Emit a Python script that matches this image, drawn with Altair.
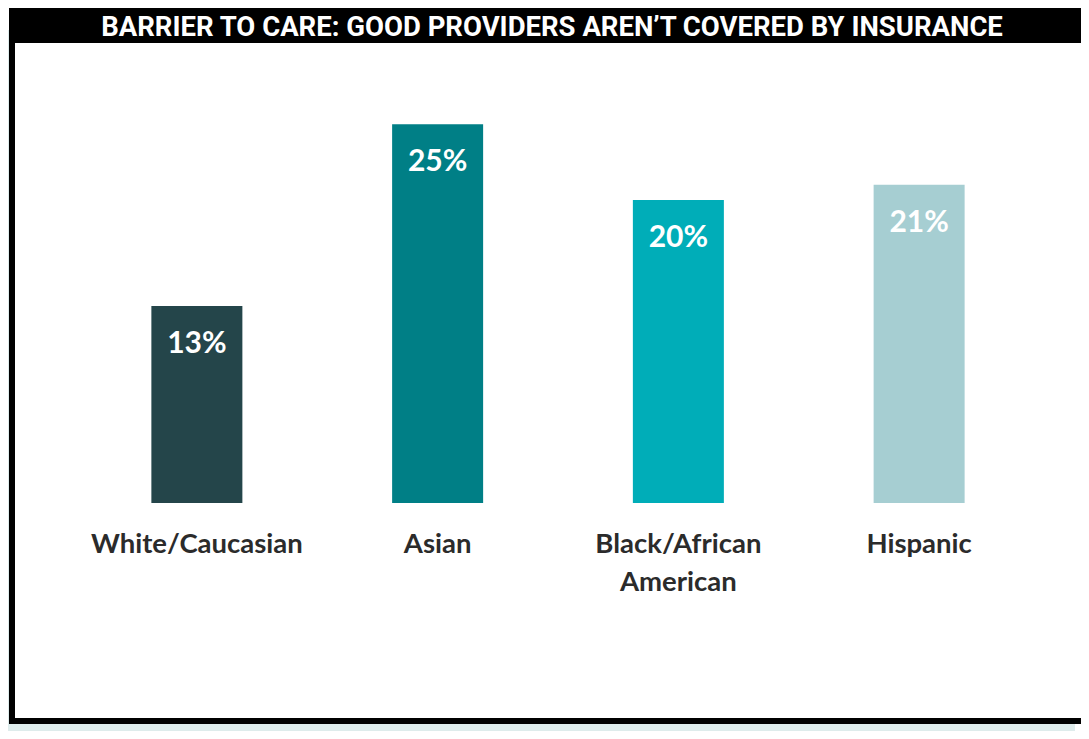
import altair as alt
import pandas as pd

categories = ["White/Caucasian", "Asian", "Black/African\nAmerican", "Hispanic"]
values = [13, 25, 20, 21]
labels = ["13%", "25%", "20%", "21%"]
colors = ["#24454a", "#007f86", "#00adb8", "#a6ced2"]
title_text = "BARRIER TO CARE: GOOD PROVIDERS AREN\u2019T COVERED BY INSURANCE"

df = pd.DataFrame({"cat": categories, "val": values, "lab": labels, "col": colors})
dummy = alt.Data(values=[{"a": 1}])

W, H = 1073, 723
# value 0 sits at chart y 495
ppu = 15.15
top_v = 495 / ppu
bot_v = -(H - 495) / ppu

xs = alt.X("cat:N", sort=categories, axis=None,
           scale=alt.Scale(range=[68.5, 1031.5], paddingInner=0.622, paddingOuter=0.311, round=False))
ys = alt.Y("val:Q", axis=None,
           scale=alt.Scale(domain=[bot_v, top_v], range=[H, 0], nice=False, zero=False))

bg = alt.Chart(dummy).mark_rect(color="#deecec").encode(
    x=alt.value(0), x2=alt.value(1067), y=alt.value(22), y2=alt.value(H))
frame = alt.Chart(dummy).mark_rect(color="#000000").encode(
    x=alt.value(1), x2=alt.value(W), y=alt.value(0), y2=alt.value(716))
inner = alt.Chart(dummy).mark_rect(color="#ffffff").encode(
    x=alt.value(7), x2=alt.value(W), y=alt.value(35), y2=alt.value(710))
title = alt.Chart(dummy).mark_text(
    text=title_text, font="Roboto", fontWeight="bold", fontSize=27.5,
    color="white", align="center", baseline="middle").encode(
    x=alt.value(544), y=alt.value(20))

base = alt.Chart(df)
bars = base.mark_bar().encode(
    x=xs, y=ys, y2=alt.datum(0),
    color=alt.Color("col:N", scale=None))
vlabels = base.mark_text(font="Lato", fontWeight="bold", fontSize=30, color="white",
                         align="center", baseline="middle", dy=38).encode(
    x=xs, y=ys, text="lab:N")
clabels = base.mark_text(font="Lato", fontWeight="bold", fontSize=27.5, color="#2b2b2b",
                         align="center", baseline="top", lineBreak="\n", lineHeight=38).encode(
    x=xs, y=alt.value(523), text="cat:N")

chart = alt.layer(bg, frame, inner, title, bars, vlabels, clabels).properties(
    width=W, height=H, padding=0, autosize=alt.AutoSizeParams(type="none"),
    background="white"
).configure_view(stroke=None)

chart.save("out.html", embed_options={"renderer": "svg", "actions": False})
